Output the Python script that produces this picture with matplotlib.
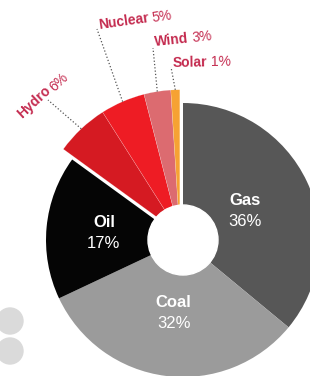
import numpy as np
import matplotlib.pyplot as plt
from matplotlib.patches import Circle

plt.rcParams['font.family'] = ['Liberation Sans', 'DejaVu Sans']

# energy mix, clockwise from 12 o'clock
sources = ['Gas', 'Coal', 'Oil', 'Hydro', 'Nuclear', 'Wind', 'Solar']
shares = [36, 32, 17, 6, 5, 3, 1]
colors = ['#575757', '#9b9b9b', '#050505', '#d51a22', '#ee1c24', '#dc6b70', '#f6a233']

inner = ['Gas', 'Coal', 'Oil']
inner_r = [0.50, 0.54, 0.58]          # label distance as fraction of radius
outer = ['Hydro', 'Nuclear', 'Wind', 'Solar']
# label anchor (between name and percent) in pixel coords, and rotation
outer_pos = {'Hydro': (50, 89), 'Nuclear': (150, 18), 'Wind': (190, 38), 'Solar': (209, 62)}
outer_rot = {'Hydro': 43, 'Nuclear': 8, 'Wind': 6, 'Solar': 1}
leader_top = {'Hydro': (48, 100), 'Nuclear': (97, 29), 'Wind': (153, 48), 'Solar': (171, 67)}

W, H = 310, 376
cx, cy = 183, H - 240
R = 137
label_col = '#c42b4f'

fig = plt.figure(figsize=(W / 100, H / 100), dpi=100)
ax = fig.add_axes([0, 0, 1, 1])

wedges, _ = ax.pie(shares, colors=colors, startangle=90, counterclock=False,
                   radius=R, center=(cx, cy), wedgeprops=dict(linewidth=0))

# pull the renewables + nuclear group out a little and make it bigger
grp = [sources.index(s) for s in outer]
t1 = min(wedges[i].theta1 for i in grp)
t2 = max(wedges[i].theta2 for i in grp)
mid = np.deg2rad((t1 + t2) / 2)
off = 7
gcx, gcy = cx + off * np.cos(mid), cy + off * np.sin(mid)
R2 = 144
for i in grp:
    wedges[i].set_center((gcx, gcy))
    wedges[i].set_radius(R2)
    wedges[i].set_edgecolor((1, 1, 1, 0.35))
    wedges[i].set_linewidth(0.3)

# hole
ax.add_patch(Circle((cx, cy), 35, color='white', zorder=5))

# inner labels
for s, fr in zip(inner, inner_r):
    w = wedges[sources.index(s)]
    a = np.deg2rad((w.theta1 + w.theta2) / 2)
    x, y = cx + fr * R * np.cos(a), cy + fr * R * np.sin(a)
    v = shares[sources.index(s)]
    ax.text(x, y + 10.5, s, color='white', fontsize=12, fontweight='bold',
            ha='center', va='center', zorder=6)
    ax.text(x, y - 10.5, f'{v}%', color='white', fontsize=12,
            ha='center', va='center', zorder=6)

# outer labels with dotted leaders
for s in outer:
    w = wedges[sources.index(s)]
    a = np.deg2rad((w.theta1 + w.theta2) / 2)
    x0, y0 = gcx + R2 * np.cos(a), gcy + R2 * np.sin(a)
    lx, ly = leader_top[s]
    ax.plot([x0, lx], [y0, H - ly], ls=':', color='#555555', lw=0.9, zorder=4)
    px, py = outer_pos[s]
    rot = outer_rot[s]
    v = shares[sources.index(s)]
    ax.text(px - 1.5, H - py, s, color=label_col, fontsize=10, fontweight='bold',
            ha='right', va='center', rotation=rot, rotation_mode='anchor')
    ax.text(px + 1.5, H - py, f'{v}%', color=label_col, fontsize=10,
            ha='left', va='center', rotation=rot, rotation_mode='anchor')

# decorative grey dots
for yy in (321, 351):
    ax.add_patch(Circle((10, H - yy), 13, color='#dadada', zorder=1))

ax.set_xlim(0, W)
ax.set_ylim(0, H)
ax.set_aspect('auto')
ax.axis('off')

fig.savefig('out.png', dpi=100)
